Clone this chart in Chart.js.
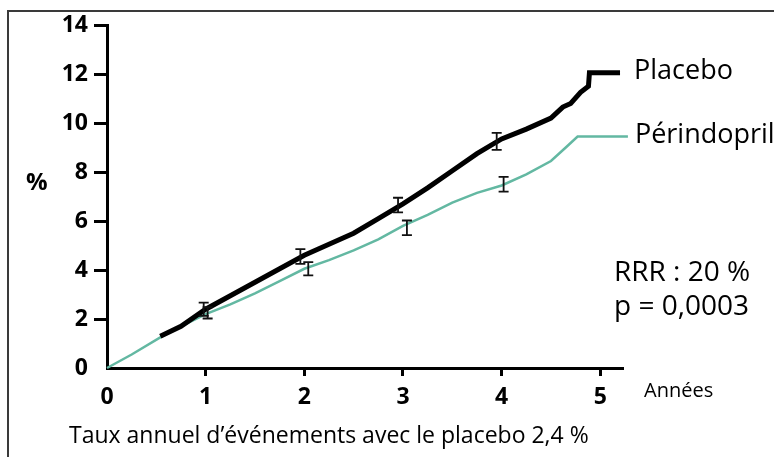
<!DOCTYPE html>
<html>
<head>
<meta charset="utf-8">
<script src="https://cdn.jsdelivr.net/npm/chart.js@4"></script>
<style>
  html, body { margin: 0; padding: 0; background: #fff; overflow: hidden; }
  #wrap { position: relative; width: 774px; height: 457px; }
  #frame {
    position: absolute; left: 7px; top: 10px; width: 800px; height: 500px;
    border-left: 2px solid #3a3a3a; border-top: 2px solid #3a3a3a;
    pointer-events: none;
  }
</style>
</head>
<body>
<div id="wrap">
  <canvas id="km-chart"></canvas>
  <div id="frame"></div>
</div>
<script>
// cumulative event curves (years, %)
const placeboYears = [0.54, 0.75, 1.0, 1.25, 1.5, 1.75, 2.0, 2.25, 2.5, 2.75, 3.0, 3.25, 3.5, 3.75, 4.0, 4.25, 4.5, 4.62, 4.7, 4.8, 4.88, 4.89, 5.2];
const placeboPct   = [1.3, 1.7, 2.4, 2.95, 3.5, 4.05, 4.6, 5.05, 5.5, 6.1, 6.7, 7.35, 8.05, 8.75, 9.35, 9.75, 10.2, 10.65, 10.8, 11.25, 11.5, 12.05, 12.05];

const perindoprilYears = [0, 0.25, 0.54, 0.75, 1.0, 1.25, 1.5, 1.75, 2.0, 2.25, 2.5, 2.75, 3.0, 3.25, 3.5, 3.75, 4.0, 4.25, 4.5, 4.65, 4.77, 5.28];
const perindoprilPct   = [0, 0.55, 1.25, 1.7, 2.2, 2.6, 3.05, 3.55, 4.05, 4.4, 4.8, 5.25, 5.8, 6.25, 6.75, 7.15, 7.45, 7.9, 8.45, 9.0, 9.45, 9.45];

// error bars (centre +/- half width)
const placeboErrYears = [0.98, 1.96, 2.95, 3.95];
const placeboErrMid   = [2.4, 4.55, 6.65, 9.25];
const placeboErrHalf  = [0.27, 0.3, 0.3, 0.35];

const perindoprilErrYears = [1.02, 2.04, 3.04, 4.02];
const perindoprilErrMid   = [2.25, 4.05, 5.72, 7.5];
const perindoprilErrHalf  = [0.23, 0.27, 0.3, 0.3];

const yTicks = [0, 2, 4, 6, 8, 10, 12, 14];
const xTicks = [0, 1, 2, 3, 4, 5];

const FONT = "'Open Sans', 'DejaVu Sans', sans-serif";
const TEAL = '#63b8a2';

const toPoints = (xs, ys) => xs.map((x, i) => ({ x: x, y: ys[i] }));

// draws the vertical error bars with caps
const errorBarPlugin = {
  id: 'errorBars',
  afterDatasetsDraw(chart) {
    const ctx = chart.ctx;
    const xs = chart.scales.x, ys = chart.scales.y;
    const sets = [
      [placeboErrYears, placeboErrMid, placeboErrHalf],
      [perindoprilErrYears, perindoprilErrMid, perindoprilErrHalf],
    ];
    ctx.save();
    ctx.strokeStyle = '#111';
    ctx.lineWidth = 1.8;
    sets.forEach(([yrs, mid, half]) => {
      yrs.forEach((yr, i) => {
        const px = xs.getPixelForValue(yr);
        const top = ys.getPixelForValue(mid[i] + half[i]);
        const bot = ys.getPixelForValue(mid[i] - half[i]);
        ctx.beginPath();
        ctx.moveTo(px, top); ctx.lineTo(px, bot);
        ctx.moveTo(px - 5, top); ctx.lineTo(px + 5, top);
        ctx.moveTo(px - 5, bot); ctx.lineTo(px + 5, bot);
        ctx.stroke();
      });
    });
    ctx.restore();
  }
};

// labels and notes around the plot
const notesPlugin = {
  id: 'notes',
  afterDraw(chart) {
    const ctx = chart.ctx;
    const xs = chart.scales.x, ys = chart.scales.y;
    ctx.save();
    ctx.fillStyle = '#000';
    ctx.textBaseline = 'middle';
    ctx.textAlign = 'left';

    ctx.font = 'bold 24px ' + FONT;
    ctx.fillText('%', 26, 183);

    ctx.font = '27px ' + FONT;
    const pEnd = placeboYears.length - 1;
    ctx.fillText('Placebo', xs.getPixelForValue(placeboYears[pEnd]) + 14, ys.getPixelForValue(placeboPct[pEnd]) - 1);
    const qEnd = perindoprilYears.length - 1;
    ctx.fillText('Périndopril', xs.getPixelForValue(perindoprilYears[qEnd]) + 7, ys.getPixelForValue(perindoprilPct[qEnd]) - 1);

    ctx.font = '28px ' + FONT;
    ctx.fillText('RRR : 20 %', 614, 273);
    ctx.fillText('p = 0,0003', 614, 307);

    ctx.font = '20px ' + FONT;
    ctx.fillText('Années', 644, 391);

    ctx.font = '23px ' + FONT;
    ctx.fillText('Taux annuel d\u2019événements avec le placebo 2,4 %', 69, 436);
    ctx.restore();
  }
};

const tickColor = c => (c.tick && c.tick.value === 0 ? 'rgba(0,0,0,0)' : '#000');

new Chart(document.getElementById('km-chart'), {
  type: 'line',
  data: {
    datasets: [
      {
        label: 'Placebo',
        data: toPoints(placeboYears, placeboPct),
        borderColor: '#000',
        borderWidth: 5,
        pointRadius: 0,
        tension: 0,
        clip: false,
      },
      {
        label: 'Périndopril',
        data: toPoints(perindoprilYears, perindoprilPct),
        borderColor: TEAL,
        borderWidth: 2.5,
        pointRadius: 0,
        tension: 0,
        clip: false,
      },
    ],
  },
  options: {
    responsive: true,
    maintainAspectRatio: false,
    animation: false,
    layout: { padding: { top: 25, right: 152, bottom: 50, left: 0 } },
    plugins: {
      legend: { display: false },
      tooltip: { enabled: false },
    },
    scales: {
      x: {
        type: 'linear',
        min: 0,
        max: 5.22,
        afterFit: s => { s.height = 39; },
        afterBuildTicks: s => { s.ticks = xTicks.map(v => ({ value: v })); },
        border: { display: true, color: '#000', width: 3 },
        grid: { drawOnChartArea: false, drawTicks: true, tickLength: 8, lineWidth: 3, color: tickColor },
        ticks: { color: '#000', padding: 8, font: { family: FONT, size: 23, weight: 'bold' } },
      },
      y: {
        min: 0,
        max: 14,
        afterFit: s => { s.width = 107; },
        afterBuildTicks: s => { s.ticks = yTicks.map(v => ({ value: v })); },
        border: { display: true, color: '#000', width: 3 },
        grid: { drawOnChartArea: false, drawTicks: true, tickLength: 13, lineWidth: 3, color: tickColor },
        ticks: { color: '#000', padding: 6, font: { family: FONT, size: 23, weight: 'bold' } },
      },
    },
  },
  plugins: [errorBarPlugin, notesPlugin],
});
</script>
</body>
</html>
